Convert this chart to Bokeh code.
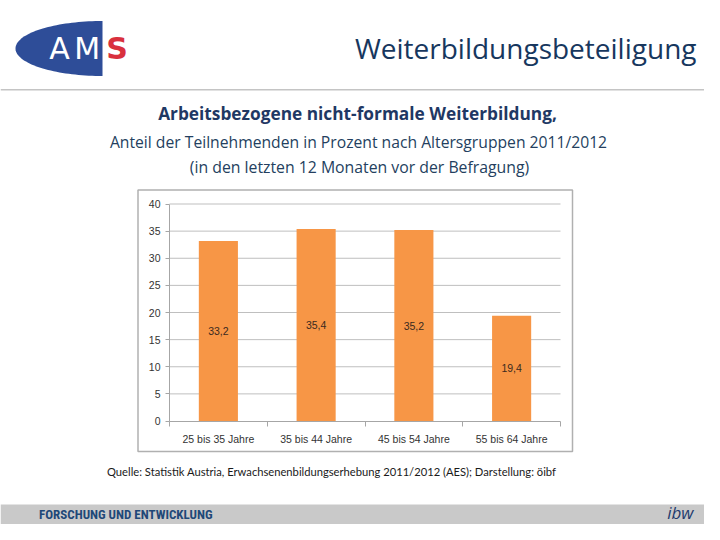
import numpy as np
from bokeh.plotting import figure
from bokeh.models import (Range1d, FixedTicker, Label, LinearAxis, ColumnDataSource)
from bokeh.embed import file_html
from bokeh.resources import INLINE
from bokeh.core.properties import value

# ---------------- data ----------------
categories = ["25 bis 35 Jahre", "35 bis 44 Jahre", "45 bis 54 Jahre", "55 bis 64 Jahre"]
values = [33.2, 35.4, 35.2, 19.4]
y_ticks = [0, 5, 10, 15, 20, 25, 30, 35, 40]

title_text = "Weiterbildungsbeteiligung"
subtitle_bold = "Arbeitsbezogene nicht-formale Weiterbildung,"
subtitle_2 = "Anteil der Teilnehmenden in Prozent nach Altersgruppen 2011/2012"
subtitle_3 = "(in den letzten 12 Monaten vor der Befragung)"
source_text = "Quelle: Statistik Austria, Erwachsenenbildungserhebung 2011/2012 (AES); Darstellung: öibf"
footer_left = "FORSCHUNG UND ENTWICKLUNG"
footer_right = "ibw"

# ---------------- layout (canvas pixels) ----------------
W, H = 704, 524
FL, FR, FT, FB = 169, 560, 203.5, 420.5   # chart plot area edges on the canvas

n = len(categories)
y_max = y_ticks[-1]
px_x = (FR - FL) / n
px_y = (FB - FT) / y_max

centers = [i + 0.5 for i in range(n)]
bounds = list(range(n + 1))

p = figure(width=W, height=H, output_backend="svg", toolbar_location=None, tools="",
           x_range=Range1d(0, W), y_range=Range1d(H, 0),
           x_axis_location=None, y_axis_location=None,
           min_border=0, min_border_left=0, min_border_right=0,
           min_border_top=0, min_border_bottom=0)
p.outline_line_color = None
p.background_fill_color = "white"
p.border_fill_color = "white"
p.xgrid.visible = False
p.ygrid.visible = False

# scales of the chart, mapped onto the chart's plot area
p.extra_x_ranges = {"cat": Range1d(-FL / px_x, (W - FL) / px_x)}
p.extra_y_ranges = {"val": Range1d(-(H - FB) / px_y, FB / px_y)}

# ---------------- slide decoration ----------------
p.quad(left=[0], right=[W], top=[88.5], bottom=[90], fill_color="#C4C4C4", line_color=None)
p.quad(left=[0], right=[W], top=[504], bottom=[H], fill_color="#C9C9C9", line_color=None)
p.quad(left=[137.5], right=[572], top=[189.5], bottom=[451], fill_color=None,
       line_color="#B0B0B0", line_width=1.5)

t = np.linspace(np.pi / 2, 3 * np.pi / 2, 80)
p.patch(x=102 + 87 * np.cos(t), y=48 - 27.5 * np.sin(t), fill_color="#2E4D98", line_color=None)


def lab(X, Y, text, size, color, font="Open Sans", align="left", style="normal"):
    p.add_layout(Label(x=X, y=Y, text=text, text_font_size=size, text_color=color,
                       text_font=font, text_align=align, text_baseline="middle",
                       text_font_style=style))


lab(59, 47.5, "A", "30px", "white", font="DejaVu Sans", align="center")
lab(86.7, 47.5, "M", "30px", "white", font="DejaVu Sans", align="center")
lab(116.5, 47.5, "S", "30px", "#D9303E", font="DejaVu Sans", align="center", style="bold")

lab(696, 47.5, title_text, "28px", "#17375E", align="right")
lab(357, 113, subtitle_bold, "17.3px", "#1F3864", align="center", style="bold")
lab(358, 141, subtitle_2, "15.7px", "#243F60", align="center")
lab(359, 166, subtitle_3, "15.8px", "#243F60", align="center")

lab(106.5, 470.5, source_text, "11.2px", "#1a1a1a", font="Lato")

lab(38.5, 514, footer_left, "13px", "#1F4878",
    font="'Roboto Condensed', 'Liberation Sans Narrow', 'DejaVu Sans Condensed', Roboto, sans-serif",
    style="bold")
lab(693, 512, footer_right, "17px", "#1F3B6E", align="right", style="italic")

# ---------------- chart ----------------
src = ColumnDataSource(dict(
    x=centers, top=values, ymid=[v / 2 for v in values],
    label=[f"{v:.1f}".replace(".", ",") for v in values]))

grid_src = ColumnDataSource(dict(y=y_ticks[1:], x0=[0] * (len(y_ticks) - 1),
                                 x1=[n] * (len(y_ticks) - 1)))
p.segment(x0="x0", x1="x1", y0="y", y1="y", source=grid_src, line_color="#BFBFBF",
          line_width=1, x_range_name="cat", y_range_name="val")

p.vbar(x="x", top="top", width=0.4, source=src, fill_color="#F79646", line_color=None,
       x_range_name="cat", y_range_name="val")
p.text(x="x", y="ymid", text="label", source=src, text_align="center",
       text_baseline="middle", text_font_size="10.5px", text_color="#3a2a1f",
       text_font=value("Liberation Sans"), x_range_name="cat", y_range_name="val")

AX = "#A6A6A6"
yaxis = LinearAxis(y_range_name="val", fixed_location=FL, bounds=(0, y_max),
                   ticker=FixedTicker(ticks=y_ticks))
yaxis.axis_line_color = AX
yaxis.major_tick_line_color = AX
yaxis.major_tick_out = 4
yaxis.major_tick_in = 0
yaxis.minor_tick_line_color = None
yaxis.major_label_standoff = 5
yaxis.major_label_text_font_size = "10.5px"
yaxis.major_label_text_font = "Liberation Sans"
yaxis.major_label_text_color = "#333333"
p.add_layout(yaxis, "left")

xaxis = LinearAxis(x_range_name="cat", fixed_location=FB, bounds=(0, n),
                   ticker=FixedTicker(ticks=centers, minor_ticks=bounds))
xaxis.major_label_overrides = {c: lbl for c, lbl in zip(centers, categories)}
xaxis.axis_line_color = AX
xaxis.major_tick_line_color = None
xaxis.major_tick_out = 0
xaxis.major_tick_in = 0
xaxis.minor_tick_line_color = AX
xaxis.minor_tick_out = 5
xaxis.minor_tick_in = 0
xaxis.major_label_standoff = 7
xaxis.major_label_text_font_size = "10.5px"
xaxis.major_label_text_font = "Liberation Sans"
xaxis.major_label_text_color = "#333333"
p.add_layout(xaxis, "below")

open("out.html", "w").write(file_html(p, INLINE))
